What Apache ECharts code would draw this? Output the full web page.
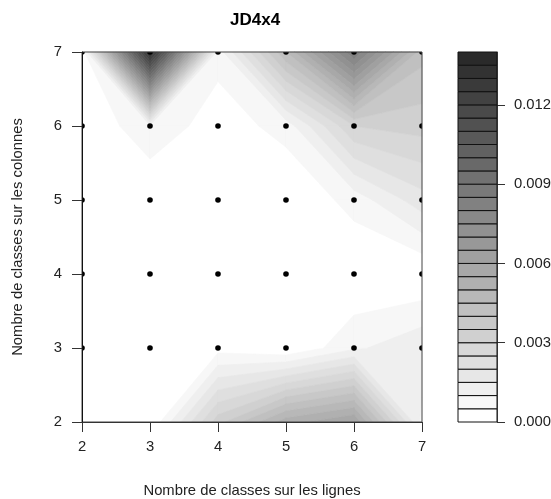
<!DOCTYPE html>
<html><head><meta charset="utf-8">
<script src="https://cdn.jsdelivr.net/npm/echarts@6/dist/echarts.min.js"></script>
<style>html,body{margin:0;padding:0;background:#fff}#c{width:551px;height:499px}</style>
</head><body><div id="c"></div>
<script>
// grid coordinates
const xValues = [2, 3, 4, 5, 6, 7];
const yValues = [2, 3, 4, 5, 6, 7];
// z values, one row per y value (x = 2..7)
const zRowY2 = [0, 0, 0.0033, 0.0053, 0.0060, 0.0008];
const zRowY3 = [0, 0, 0.0003, 0, 0.0009, 0.0014];
const zRowY4 = [0, 0, 0, 0, 0, 0];
const zRowY5 = [0, 0, 0, 0, 0.0007, 0.0018];
const zRowY6 = [0, 0.0009, 0.0002, 0.0007, 0.0030, 0.0032];
const zRowY7 = [0, 0.0135, 0.0007, 0.0045, 0.0085, 0.0042];
const zRows = [zRowY2, zRowY3, zRowY4, zRowY5, zRowY6, zRowY7];
// contour levels
const levelStep = 0.0005;
const levelCount = 28;
const keyTicks = [0, 0.003, 0.006, 0.009, 0.012];
const xTicks = [2, 3, 4, 5, 6, 7];
const yTicks = [2, 3, 4, 5, 6, 7];
const pointYs = [3, 4, 5, 6, 7];

const FONT = "'Liberation Sans', Arial, sans-serif";
function bandColor(k) {
  const v = Math.round(255 - k * (255 - 42) / (levelCount - 1));
  return 'rgb(' + v + ',' + v + ',' + v + ')';
}
// value expressed in level units (rounded to avoid float gaps)
function toUnits(v) { return Math.round(v / levelStep * 1e6) / 1e6; }

const cells = [];
for (let j = 0; j < yValues.length - 1; j++)
  for (let i = 0; i < xValues.length - 1; i++) cells.push([i, j]);
const dots = [];
pointYs.forEach(y => xValues.forEach(x => dots.push([x, y])));
const keyData = [];
for (let k = 0; k < levelCount; k++) keyData.push([k]);

function contourCell(params, api) {
  const i = api.value(0), j = api.value(1);
  const c = [
    [xValues[i], yValues[j], toUnits(zRows[j][i])],
    [xValues[i + 1], yValues[j], toUnits(zRows[j][i + 1])],
    [xValues[i + 1], yValues[j + 1], toUnits(zRows[j + 1][i + 1])],
    [xValues[i], yValues[j + 1], toUnits(zRows[j + 1][i])]
  ];
  const children = [];
  for (let k = 0; k < levelCount; k++) {
    const lo = k, hi = k + 1;
    const inBand = v => v >= lo && v <= hi;
    const poly = [];
    for (let e = 0; e < 4; e++) {
      const a = c[e], b = c[(e + 1) % 4];
      if (inBand(a[2])) poly.push([a[0], a[1]]);
      const ts = [];
      [lo, hi].forEach(L => {
        if ((a[2] - L) * (b[2] - L) < 0) ts.push((L - a[2]) / (b[2] - a[2]));
      });
      ts.sort((p, q) => p - q);
      ts.forEach(t => poly.push([a[0] + (b[0] - a[0]) * t, a[1] + (b[1] - a[1]) * t]));
    }
    if (poly.length >= 3) {
      const col = bandColor(k);
      children.push({
        type: 'polygon',
        shape: { points: poly.map(p => api.coord(p)) },
        style: { fill: col, stroke: col, lineWidth: 0.6 }
      });
    }
  }
  return { type: 'group', children: children };
}

const chart = echarts.init(document.getElementById('c'), null, { renderer: 'canvas' });
chart.setOption({
  animation: false,
  backgroundColor: '#fff',
  textStyle: { fontFamily: FONT },
  title: {
    text: 'JD4x4', left: 225, top: 7,
    textStyle: { fontFamily: FONT, fontWeight: 'bold', fontSize: 17, color: '#000' }
  },
  grid: [
    { left: 82, top: 52, width: 340, height: 370, show: true, borderColor: '#444', borderWidth: 1,
      backgroundColor: 'transparent', z: 5, containLabel: false, outerBoundsMode: 'none' },
    { left: 458, top: 52, width: 39, height: 370, show: false, containLabel: false, outerBoundsMode: 'none' }
  ],
  xAxis: [
    {
      gridIndex: 0, type: 'value', min: 2, max: 7, interval: 1,
      name: 'Nombre de classes sur les lignes', nameLocation: 'middle', nameGap: 61,
      nameTextStyle: { fontFamily: FONT, fontSize: 14.8, color: '#222' },
      axisLine: { show: true, onZero: false, lineStyle: { color: '#333', width: 1 } },
      axisTick: { show: true, inside: false, length: 10, lineStyle: { color: '#333' }, customValues: xTicks },
      axisLabel: { fontFamily: FONT, fontSize: 14.8, color: '#222', margin: 17, customValues: xTicks },
      splitLine: { show: false }, z: 10
    },
    { gridIndex: 1, type: 'value', min: 0, max: 1, show: false }
  ],
  yAxis: [
    {
      gridIndex: 0, type: 'value', min: 2, max: 7, interval: 1,
      name: 'Nombre de classes sur les colonnes', nameLocation: 'middle', nameGap: 57, nameRotate: 90,
      nameTextStyle: { fontFamily: FONT, fontSize: 14.8, color: '#222' },
      axisLine: { show: true, onZero: false, lineStyle: { color: '#111', width: 1 } },
      axisTick: { show: true, inside: false, length: 10, lineStyle: { color: '#333' }, customValues: yTicks },
      axisLabel: { fontFamily: FONT, fontSize: 14.8, color: '#222', margin: 20, customValues: yTicks },
      splitLine: { show: false }, z: 10
    },
    {
      gridIndex: 1, type: 'value', min: 0, max: 0.014, interval: 0.003, position: 'right',
      axisLine: { show: true, onZero: false, lineStyle: { color: '#555', width: 1 } },
      axisTick: { show: true, inside: false, length: 8, lineStyle: { color: '#333' }, customValues: keyTicks },
      axisLabel: { fontFamily: FONT, fontSize: 14.8, color: '#222', margin: 17, customValues: keyTicks,
        formatter: v => Number(v).toFixed(3) },
      splitLine: { show: false }
    }
  ],
  series: [
    {
      type: 'custom', xAxisIndex: 0, yAxisIndex: 0, data: cells,
      encode: { x: 0, y: 1 }, renderItem: contourCell, silent: true, z: 1
    },
    {
      type: 'custom', xAxisIndex: 0, yAxisIndex: 0, data: dots, clip: true, silent: true, z: 3,
      renderItem: (params, api) => {
        const p = api.coord([api.value(0), api.value(1)]);
        return { type: 'circle', shape: { cx: p[0], cy: p[1], r: 2.8 }, style: { fill: '#000' } };
      }
    },
    {
      type: 'custom', xAxisIndex: 1, yAxisIndex: 1, data: keyData, silent: true, z: 2,
      renderItem: (params, api) => {
        const k = api.value(0);
        const p1 = api.coord([0, (k + 1) * levelStep]);
        const p2 = api.coord([1, k * levelStep]);
        return {
          type: 'rect',
          shape: { x: p1[0], y: p1[1], width: p2[0] - p1[0], height: p2[1] - p1[1] },
          style: { fill: bandColor(k), stroke: '#111', lineWidth: 1 }
        };
      }
    }
  ]
});
</script></body></html>
